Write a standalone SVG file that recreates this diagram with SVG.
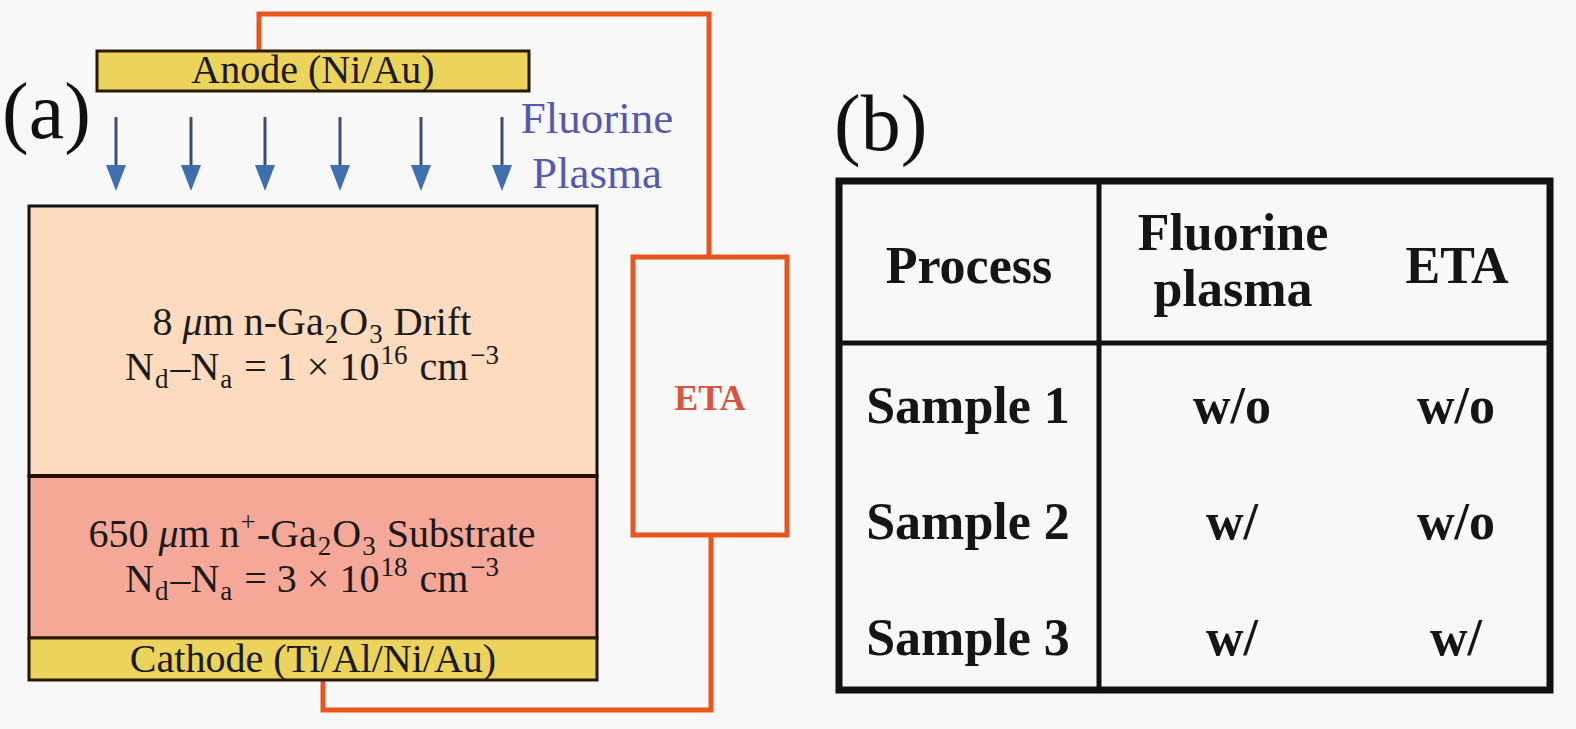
<svg xmlns="http://www.w3.org/2000/svg" width="1576" height="729" viewBox="0 0 1576 729">
  <defs>
    <style>
      .serif { font-family: "Liberation Serif", "Times New Roman", serif; }
      .lbl { font-family: "Liberation Serif", "Times New Roman", serif; font-size: 80px; fill: #111; }
      .layer { font-family: "Liberation Serif", "Times New Roman", serif; font-size: 40px; fill: #1a1a1a; text-anchor: middle; }
      .metal { stroke: #2a1800; stroke-width: 3; fill: #ebd35c; }
      .wire { stroke: #e8561e; stroke-width: 5; fill: none; stroke-linejoin: miter; }
      .arrow { stroke: #3d4d72; stroke-width: 3; marker-end: url(#ah); }
      .plasma { font-family: "Liberation Serif", "Times New Roman", serif; font-size: 45px; fill: #5658b0; text-anchor: middle; }
      .th { font-family: "Liberation Serif", "Times New Roman", serif; font-size: 52px; font-weight: bold; fill: #151515; text-anchor: middle; }
      .grid { stroke: #111; fill: none; }
      .sub { font-size: 27px; }
    </style>
    <marker id="ah" viewBox="0 0 26 20" markerWidth="26" markerHeight="20" refX="0" refY="10" orient="auto" markerUnits="userSpaceOnUse">
      <path d="M0,0 L26,10 L0,20 z" fill="#3e6fae"/>
    </marker>
  </defs>

  <rect x="0" y="0" width="1576" height="729" fill="#f8f8f8"/>

  <text class="lbl" x="2" y="138">(a)</text>
  <text class="lbl" x="834" y="150">(b)</text>

  <g id="connectors">
    <path class="wire" d="M259,51 V14 H709 V257"/>
    <path class="wire" d="M323,680 V710 H711 V535"/>
    <line class="arrow" x1="116" y1="117" x2="116" y2="165"/>
    <line class="arrow" x1="191" y1="117" x2="191" y2="165"/>
    <line class="arrow" x1="265" y1="117" x2="265" y2="165"/>
    <line class="arrow" x1="340" y1="117" x2="340" y2="165"/>
    <line class="arrow" x1="421" y1="117" x2="421" y2="165"/>
    <line class="arrow" x1="502" y1="117" x2="502" y2="165"/>
  </g>

  <g id="anode">
    <rect class="metal" x="97" y="51" width="432" height="40"/>
    <text class="layer" x="313" y="83" font-size="38">Anode (Ni/Au)</text>
  </g>

  <g id="plasma-label">
    <text class="plasma" x="597" y="133">Fluorine</text>
    <text class="plasma" x="597" y="188">Plasma</text>
  </g>

  <g id="drift">
    <rect x="29" y="206" width="568" height="270" fill="#fddbbe" stroke="#111" stroke-width="3"/>
    <text class="layer" x="312" y="335">8 <tspan font-style="italic">μ</tspan>m n-Ga<tspan class="sub" dy="8" dx="1">2</tspan><tspan dy="-8" dx="1">O</tspan><tspan class="sub" dy="8" dx="1">3</tspan><tspan dy="-8" dx="1"> Drift</tspan></text>
    <text class="layer" x="312" y="380">N<tspan class="sub" dy="8" dx="1">d</tspan><tspan dy="-8" dx="2">–N</tspan><tspan class="sub" dy="8" dx="1">a</tspan><tspan dy="-8" dx="2"> = 1 × 10</tspan><tspan class="sub" dy="-16" dx="1">16</tspan><tspan dy="16" dx="2"> cm</tspan><tspan class="sub" dy="-16" dx="2">−3</tspan></text>
  </g>

  <g id="substrate">
    <rect x="29" y="476" width="568" height="162" fill="#f5a898" stroke="#111" stroke-width="3"/>
    <line x1="29" y1="476" x2="597" y2="476" stroke="#2a1000" stroke-width="4"/>
    <text class="layer" x="312" y="547">650 <tspan font-style="italic">μ</tspan>m n<tspan class="sub" dy="-16" dx="1">+</tspan><tspan dy="16" dx="1">-Ga</tspan><tspan class="sub" dy="8" dx="1">2</tspan><tspan dy="-8" dx="1">O</tspan><tspan class="sub" dy="8" dx="1">3</tspan><tspan dy="-8" dx="1"> Substrate</tspan></text>
    <text class="layer" x="312" y="592">N<tspan class="sub" dy="8" dx="1">d</tspan><tspan dy="-8" dx="2">–N</tspan><tspan class="sub" dy="8" dx="1">a</tspan><tspan dy="-8" dx="2"> = 3 × 10</tspan><tspan class="sub" dy="-16" dx="1">18</tspan><tspan dy="16" dx="2"> cm</tspan><tspan class="sub" dy="-16" dx="2">−3</tspan></text>
  </g>

  <g id="cathode">
    <rect class="metal" x="29" y="638" width="568" height="42"/>
    <text class="layer" x="313" y="672">Cathode (Ti/Al/Ni/Au)</text>
  </g>

  <g id="eta">
    <rect class="wire" x="633" y="257" width="154" height="278" fill="#f8f8f8"/>
    <text class="serif" x="710" y="410" font-size="36" font-weight="bold" fill="#d8553e" text-anchor="middle">ETA</text>
  </g>

  <g id="table">
    <rect class="grid" x="839" y="181" width="711" height="509" stroke-width="7"/>
    <line class="grid" x1="1099" y1="181" x2="1099" y2="690" stroke-width="5"/>
    <line class="grid" x1="839" y1="343" x2="1550" y2="343" stroke-width="5"/>
    <text class="th" x="969" y="283">Process</text>
    <text class="th" x="1233" y="250">Fluorine</text>
    <text class="th" x="1233" y="306">plasma</text>
    <text class="th" x="1457" y="283">ETA</text>
    <text class="th" x="968" y="423">Sample 1</text>
    <text class="th" x="1232" y="423">w/o</text>
    <text class="th" x="1456" y="423">w/o</text>
    <text class="th" x="968" y="539">Sample 2</text>
    <text class="th" x="1232" y="539">w/</text>
    <text class="th" x="1456" y="539">w/o</text>
    <text class="th" x="968" y="655">Sample 3</text>
    <text class="th" x="1232" y="655">w/</text>
    <text class="th" x="1456" y="655">w/</text>
  </g>
</svg>
